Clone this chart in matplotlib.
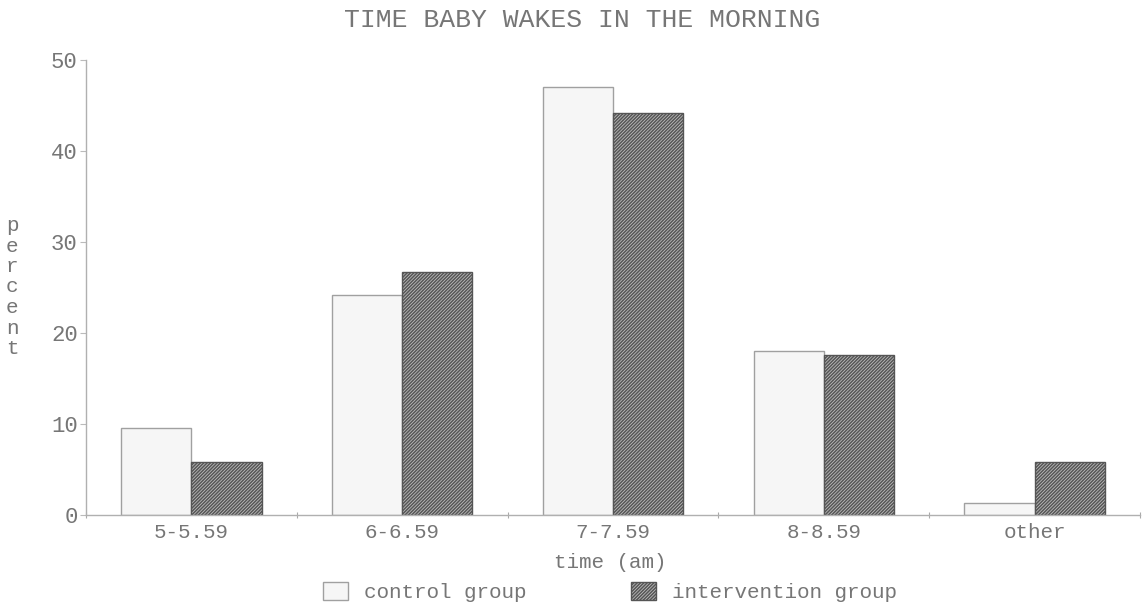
import matplotlib
matplotlib.use("Agg")
import matplotlib.pyplot as plt
import numpy as np
from matplotlib.patches import Patch

categories = ["5-5.59", "6-6.59", "7-7.59", "8-8.59", "other"]
control = [9.6, 24.2, 47.0, 18.0, 1.3]
intervention = [5.8, 26.7, 44.2, 17.6, 5.8]
yticks = [0, 10, 20, 30, 40, 50]

FONT = "Liberation Mono"
TXT = "#767676"
FS = 15

plt.rcParams["hatch.linewidth"] = 1.1
plt.rcParams["hatch.color"] = "#303030"

fig = plt.figure(figsize=(11.45, 6.12), dpi=100)
ax = fig.add_axes([86/1145, 1-515/612, (1140-86)/1145, (515-60)/612])

x = np.arange(len(categories))
w = 0.333
ax.bar(x - w/2, control, width=w, facecolor="#f6f6f6", edgecolor="#a0a0a0", linewidth=1.0)
ax.bar(x + w/2, intervention, width=w, facecolor="#bdbdbd", edgecolor="#555555",
       linewidth=1.0, hatch="//////////")

ax.set_xlim(-0.5, len(categories) - 0.5)
ax.set_ylim(0, 50)
ax.set_yticks(yticks)
ax.set_yticklabels([str(v) for v in yticks], fontsize=FS + 1, family=FONT, color=TXT)
ax.set_xticks(np.arange(len(categories) + 1) - 0.5)
ax.set_xticklabels([])
ax.set_xticks(x, minor=True)
ax.set_xticklabels(categories, minor=True, fontsize=FS, family=FONT, color=TXT)
ax.tick_params(axis="x", which="minor", length=0, pad=6)
ax.tick_params(axis="x", which="major", length=5, direction="inout", color="#aaaaaa")
ax.tick_params(axis="y", length=4, color="#bbbbbb", pad=2)
for s in ["top", "right"]:
    ax.spines[s].set_visible(False)
for s in ["left", "bottom"]:
    ax.spines[s].set_color("#b0b0b0")
    ax.spines[s].set_linewidth(1.0)

fig.text(582/1145, 1 - 20/612, "TIME BABY WAKES IN THE MORNING", ha="center", va="center",
         fontsize=19, family=FONT, color=TXT)
fig.text(610/1145, 1 - 563/612, "time (am)", ha="center", va="center",
         fontsize=FS, family=FONT, color=TXT)
fig.text(12/1145, 1 - 287/612, "\n".join("percent"), ha="center", va="center",
         fontsize=FS, family=FONT, color=TXT, linespacing=1.1)

handles = [Patch(facecolor="#f6f6f6", edgecolor="#a0a0a0", label="control group"),
           Patch(facecolor="#bdbdbd", edgecolor="#555555", hatch="//////////", label="intervention group")]
fig.legend(handles=handles, loc="center", bbox_to_anchor=(610/1145, 1 - 592/612), ncol=2,
           frameon=False, prop={"family": FONT, "size": FS}, labelcolor=TXT,
           columnspacing=5.0, handlelength=1.2, handleheight=1.0, handletextpad=0.8)

fig.savefig("out.png", dpi=100)
